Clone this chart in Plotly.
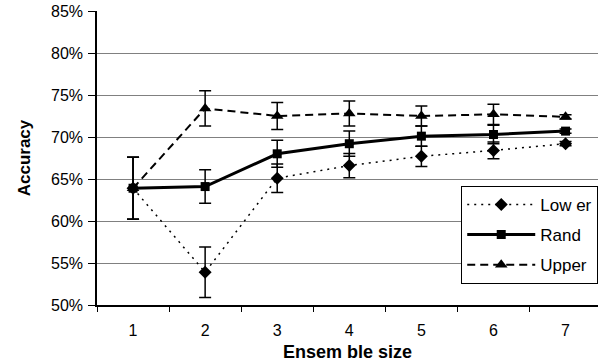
import plotly.graph_objects as go

categories = ["1", "2", "3", "4", "5", "6", "7"]
lower = [63.9, 53.9, 65.1, 66.6, 67.7, 68.4, 69.2]
lower_err = [3.7, 3.0, 1.7, 1.45, 1.2, 1.0, 0.25]
rand = [63.9, 64.1, 68.0, 69.2, 70.1, 70.3, 70.7]
rand_err = [3.7, 2.0, 1.6, 1.5, 1.2, 1.1, 0.25]
upper = [63.9, 73.4, 72.5, 72.8, 72.5, 72.7, 72.4]
upper_err = [3.7, 2.1, 1.6, 1.5, 1.2, 1.2, 0.25]
yticks = [50, 55, 60, 65, 70, 75, 80, 85]
ytick_labels = [f"{v}%" for v in yticks]
x_title = "Ensem ble size"
y_title = "Accuracy"

FONT = "Liberation Sans"

fig = go.Figure()

def add(name, vals, errs, dash, width, symbol, msize):
    fig.add_trace(go.Scatter(
        x=categories, y=vals, name=name, mode="lines+markers",
        legendgroup=name,
        line=dict(color="black", width=width, dash=dash),
        marker=dict(symbol=symbol, size=msize, color="black"),
        error_y=dict(type="data", array=errs, visible=True, color="black",
                     thickness=1.5, width=6),
    ))

add("Low er", lower, lower_err, "2px,5px", 1.5, "diamond", 10)
add("Rand", rand, rand_err, "solid", 3, "square", 9)
add("Upper", upper, upper_err, "8px,5px", 2, "triangle-up", 11)

fig.add_annotation(
    text=f"<b>{x_title}</b>", xref="paper", yref="paper",
    x=0.5, y=-0.160, xanchor="center", yanchor="middle",
    showarrow=False, font=dict(family=FONT, size=18, color="black"),
)

fig.update_layout(
    width=599, height=362,
    margin=dict(l=97, r=1, t=11, b=57),
    paper_bgcolor="white", plot_bgcolor="white",
    font=dict(family=FONT, size=16, color="black"),
    showlegend=True,
    legend=dict(
        x=0.727, y=0.405, xanchor="left", yanchor="top",
        bgcolor="white", bordercolor="black", borderwidth=1,
        font=dict(family=FONT, size=17, color="black"),
        itemwidth=68, tracegroupgap=5,
    ),
    xaxis=dict(
        type="category", range=[-0.5, 6.45],
        tickson="boundaries", ticks="outside", ticklen=5, tickcolor="black",
        showgrid=False, showline=True, linecolor="black", linewidth=1.5,
        tickfont=dict(size=16), ticklabelstandoff=10,
    ),
    yaxis=dict(
        range=[50, 85], tickvals=yticks, ticktext=ytick_labels,
        ticks="outside", ticklen=7, tickcolor="black",
        showgrid=True, gridcolor="#808080", gridwidth=1,
        showline=True, linecolor="black", linewidth=1.5,
        zeroline=False, tickfont=dict(size=16), ticklabelstandoff=2,
        title=dict(text=f"<b>{y_title}</b>", font=dict(size=17), standoff=16),
    ),
)

fig.write_html("out.html", config={"displayModeBar": False},
               post_script="document.body.style.margin='0';")
